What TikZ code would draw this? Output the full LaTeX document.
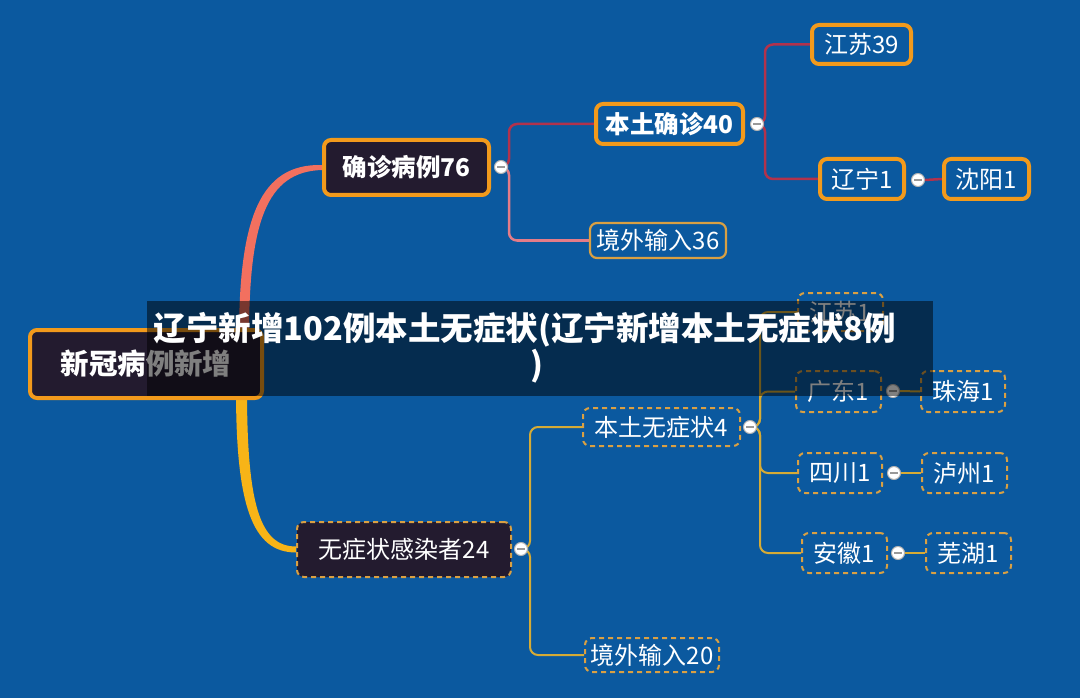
\documentclass[tikz,border=0pt]{standalone}
\usepackage{fontspec}
\setmainfont{Noto Sans CJK SC}
\usetikzlibrary{calc,backgrounds}
\definecolor{bg}{HTML}{0B599F}
\definecolor{dark}{HTML}{231B2F}
\definecolor{org}{HTML}{F29A1C}
\definecolor{orgd}{HTML}{D9A043}
\definecolor{crim}{HTML}{B2324C}
\definecolor{pinkl}{HTML}{E47C88}
\definecolor{coral}{HTML}{F2705F}
\definecolor{yel}{HTML}{F7B417}
\definecolor{lyel}{HTML}{D6AB35}
\tikzset{
  box/.style={rectangle, rounded corners=7pt, inner sep=0pt, align=center, text=white},
  tbox/.style={box, draw=org, line width=4pt},
  nbox/.style={box, draw=orgd, line width=2.2pt},
  dbox/.style={box, draw=orgd, line width=2pt, dash pattern=on 5pt off 4pt},
  fb/.style={font=\fontsize{24.5}{28}\selectfont\bfseries},
  fn/.style={font=\fontsize{24}{28}\selectfont},
  collapse/.style={circle, fill=white, draw=gray!60, line width=1pt, minimum size=13pt, inner sep=0pt,
    path picture={\draw[gray!80, line width=1.3pt] ($(path picture bounding box.west)+(2.5pt,0)$) -- ($(path picture bounding box.east)+(-2.5pt,0)$);}},
  cl/.style={crim, line width=2.5pt, rounded corners=8pt},
  pl/.style={pinkl, line width=2.5pt, rounded corners=8pt},
  yl/.style={lyel, line width=2pt, rounded corners=8pt},
}
\begin{document}
\begin{tikzpicture}[x=1pt,y=-1pt]
\begin{scope}[on background layer]
\fill[bg] (0,0) rectangle (1080,698);
\end{scope}
\useasboundingbox (0,0) rectangle (1080,698);

% nodes
\node[tbox, fill=dark, minimum width=232pt, minimum height=68pt, font=\fontsize{28.5}{32}\selectfont\bfseries] (root) at (146,364) {新冠病例新增};
\node[tbox, fill=dark, minimum width=165pt, minimum height=55pt, fb] (qz) at (406.5,167.5) {确诊病例76};
\node[tbox, fill=bg, minimum width=147pt, minimum height=40pt, fb] (bt40) at (669.5,124) {本土确诊40};
\node[nbox, fill=bg, minimum width=136pt, minimum height=35pt, fn] (jw36) at (658,240.5) {境外输入36};
\node[tbox, fill=bg, minimum width=99pt, minimum height=39pt, fn] (js39) at (861.5,44.5) {江苏39};
\node[tbox, fill=bg, minimum width=84pt, minimum height=40pt, fn] (ln1) at (862,179) {辽宁1};
\node[tbox, fill=bg, minimum width=85pt, minimum height=40pt, fn] (sy1) at (986.5,179) {沈阳1};

\node[dbox, fill=dark, minimum width=214pt, minimum height=55pt, fn] (wz) at (404,549.5) {无症状感染者24};
\node[dbox, fill=bg, minimum width=157pt, minimum height=38pt, fn] (bt4) at (661.5,427) {本土无症状4};
\node[dbox, fill=bg, minimum width=134pt, minimum height=34pt, fn] (jw20) at (652,655) {境外输入20};
\node[dbox, fill=bg, minimum width=85pt, minimum height=38pt, fn] (js1) at (840.5,312) {江苏1};
\node[dbox, fill=bg, minimum width=85pt, minimum height=41pt, fn] (gd1) at (838.5,391.5) {广东1};
\node[dbox, fill=bg, minimum width=84pt, minimum height=41pt, fn] (zh1) at (963,391.5) {珠海1};
\node[dbox, fill=bg, minimum width=84pt, minimum height=40pt, fn] (sc1) at (840,473) {四川1};
\node[dbox, fill=bg, minimum width=85pt, minimum height=40pt, fn] (lz1) at (964.5,473) {泸州1};
\node[dbox, fill=bg, minimum width=85pt, minimum height=40pt, fn] (ah1) at (844.5,553) {安徽1};
\node[dbox, fill=bg, minimum width=85pt, minimum height=40pt, fn] (wh1) at (968.5,553) {芜湖1};

% collapse markers
\node[collapse] (cqz) at (501,167) {};
\node[collapse] (cbt40) at (757,124) {};
\node[collapse] (cln1) at (918,180) {};
\node[collapse] (cwz) at (521,549) {};
\node[collapse] (cbt4) at (750,427) {};
\node[collapse] (cgd1) at (893,391) {};
\node[collapse] (csc1) at (894,473) {};
\node[collapse] (cah1) at (898,553) {};

% connectors
\begin{scope}[on background layer]
\fill[coral] ($(root.north)+(93,10)$) .. controls ($(root.north)+(93,-110)$) and ($(qz.west)+(-62,-4)$) .. ($(qz.west)+(0,-2.5)$)
  -- ($(qz.west)+(0,2.5)$) .. controls ($(qz.west)+(-56,4)$) and ($(root.north)+(103,-105)$) .. ($(root.north)+(103,10)$) -- cycle;
\fill[yel] ($(root.south)+(90,-10)$) .. controls ($(root.south)+(90,105)$) and ($(wz.west)+(-44,3)$) .. ($(wz.west)+(0,3)$)
  -- ($(wz.west)+(0,-3)$) .. controls ($(wz.west)+(-36,-3)$) and ($(root.south)+(101,105)$) .. ($(root.south)+(101,-10)$) -- cycle;
\draw[cl] (cqz.east) -- ++(1,0) |- (bt40.west);
\draw[pl] (cqz.east) -- ++(1,0) |- (jw36.west);
\draw[cl] (cbt40.east) -- ++(1,0) |- (js39.west);
\draw[cl] (cbt40.east) -- ++(1,0) |- (ln1.west);
\draw[cl] (cln1.east) -- (sy1.west);
\draw[yl] (cwz.east) -- ++(2,0) |- (bt4.west);
\draw[yl] (cwz.east) -- ++(2,0) |- (jw20.west);
\draw[yl] (cbt4.east) -- ++(3,0) |- (js1.west);
\draw[yl] (cbt4.east) -- ++(3,0) |- (gd1.west);
\draw[yl] (cbt4.east) -- ++(3,0) |- (sc1.west);
\draw[yl] (cbt4.east) -- ++(3,0) |- (ah1.west);
\draw[yl] (cgd1.east) -- (zh1.west);
\draw[yl] (csc1.east) -- (lz1.west);
\draw[yl] (cah1.east) -- (wh1.west);
\end{scope}

% title banner
\fill[black, opacity=0.5] (147,301) rectangle (933,396);
\node[text=white, align=center, inner sep=0pt, font=\fontsize{32.5}{36}\selectfont\bfseries] (title) at (525,348) {辽宁新增102例本土无症状(辽宁新增本土无症状8例\\\hspace*{24pt})};
\end{tikzpicture}
\end{document}
